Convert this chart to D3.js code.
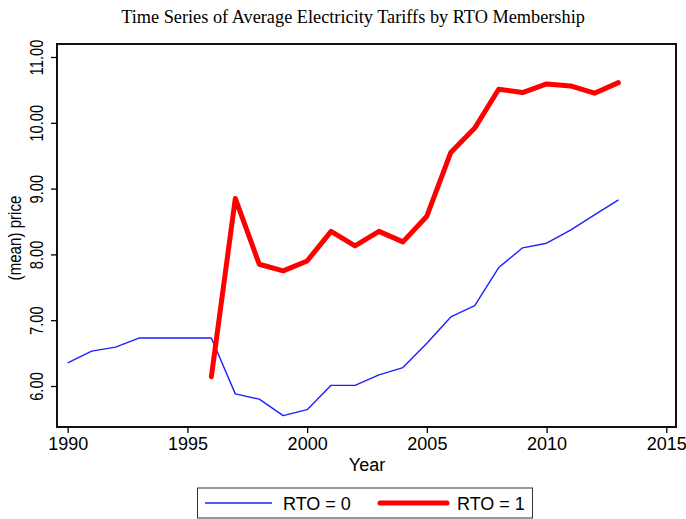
<!DOCTYPE html>
<html>
<head>
<meta charset="utf-8">
<script src="https://cdn.jsdelivr.net/npm/d3@7"></script>
<style>
  html, body { margin: 0; padding: 0; background: #fff; }
  svg { display: block; }
</style>
</head>
<body>
<svg id="chart" width="686" height="519"></svg>
<script>
const titleText = "Time Series of Average Electricity Tariffs by RTO Membership";
const yearsRTO0 = [1990, 1991, 1992, 1993, 1994, 1995, 1996, 1997, 1998, 1999, 2000, 2001, 2002, 2003, 2004, 2005, 2006, 2007, 2008, 2009, 2010, 2011, 2012, 2013];
const priceRTO0 = [6.35, 6.53, 6.59, 6.73, 6.73, 6.73, 6.73, 5.88, 5.80, 5.55, 5.64, 6.01, 6.01, 6.17, 6.28, 6.65, 7.05, 7.22, 7.80, 8.10, 8.17, 8.37, 8.60, 8.83];
const yearsRTO1 = [1996, 1997, 1998, 1999, 2000, 2001, 2002, 2003, 2004, 2005, 2006, 2007, 2008, 2009, 2010, 2011, 2012, 2013];
const priceRTO1 = [6.14, 8.85, 7.85, 7.75, 7.90, 8.35, 8.13, 8.35, 8.19, 8.58, 9.55, 9.92, 10.51, 10.46, 10.59, 10.56, 10.45, 10.61];
const xTicks = [1990, 1995, 2000, 2005, 2010, 2015];
const yTicks = [6, 7, 8, 9, 10, 11];
const seriesLabels = ["RTO = 0", "RTO = 1"];

const svg = d3.select("#chart");
const frame = { left: 57, right: 676, top: 44, bottom: 427 };

const x = d3.scaleLinear().domain([1990, 2015]).range([67.7, 666.3]);
const y = d3.scaleLinear().domain([6, 11]).range([386, 57]);

// Title
svg.append("text")
  .attr("x", 353).attr("y", 23)
  .attr("text-anchor", "middle")
  .attr("font-family", "'Liberation Serif', 'Times New Roman', serif")
  .attr("font-size", 18.3)
  .attr("fill", "#000")
  .text(titleText);

// Frame
svg.append("rect")
  .attr("x", frame.left).attr("y", frame.top)
  .attr("width", frame.right - frame.left)
  .attr("height", frame.bottom - frame.top)
  .attr("fill", "none").attr("stroke", "#111").attr("stroke-width", 2);

// Axes
const xAxis = d3.axisBottom(x).tickValues(xTicks).tickFormat(d3.format("d")).tickSize(6).tickPadding(4);
const gx = svg.append("g").attr("transform", `translate(0,${frame.bottom})`).call(xAxis);
gx.select(".domain").remove();
gx.selectAll(".tick line").attr("stroke", "#000").attr("stroke-width", 1.3);
gx.selectAll(".tick text")
  .attr("font-family", "'Liberation Sans', Arial, sans-serif")
  .attr("font-size", 18).attr("fill", "#000");

const yAxis = d3.axisLeft(y).tickValues(yTicks).tickFormat(d3.format(".2f")).tickSize(6);
const gy = svg.append("g").attr("transform", `translate(${frame.left},0)`).call(yAxis);
gy.select(".domain").remove();
gy.selectAll(".tick line").attr("stroke", "#000").attr("stroke-width", 1.3);
gy.selectAll(".tick text")
  .attr("font-family", "'Liberation Sans', Arial, sans-serif")
  .attr("font-size", 18).attr("fill", "#000")
  .attr("x", null).attr("dy", null)
  .attr("text-anchor", "middle")
  .attr("transform", "translate(-14,0) rotate(-90) scale(0.82,1)");

// Axis titles
svg.append("text")
  .attr("x", 367).attr("y", 471)
  .attr("text-anchor", "middle")
  .attr("font-family", "'Liberation Sans', Arial, sans-serif")
  .attr("font-size", 18).attr("fill", "#000")
  .text("Year");

svg.append("text")
  .attr("transform", "translate(21,238) rotate(-90) scale(0.84,1)")
  .attr("text-anchor", "middle")
  .attr("font-family", "'Liberation Sans', Arial, sans-serif")
  .attr("font-size", 18).attr("fill", "#000")
  .text("(mean) price");

// Lines
const line = d3.line().x(d => x(d[0])).y(d => y(d[1]));
const data0 = yearsRTO0.map((yr, i) => [yr, priceRTO0[i]]);
const data1 = yearsRTO1.map((yr, i) => [yr, priceRTO1[i]]);

svg.append("path").datum(data0)
  .attr("d", line).attr("fill", "none")
  .attr("stroke", "#1f1fff").attr("stroke-width", 1.4)
  .attr("stroke-linejoin", "round");

svg.append("path").datum(data1)
  .attr("d", line).attr("fill", "none")
  .attr("stroke", "#ff0000").attr("stroke-width", 5)
  .attr("stroke-linejoin", "round").attr("stroke-linecap", "round");

// Legend
const lg = svg.append("g");
lg.append("rect").attr("x", 197.5).attr("y", 488).attr("width", 335).attr("height", 30)
  .attr("fill", "#fff").attr("stroke", "#333").attr("stroke-width", 1);
lg.append("line").attr("x1", 205).attr("x2", 272).attr("y1", 503).attr("y2", 503)
  .attr("stroke", "#1f1fff").attr("stroke-width", 1.4);
lg.append("text").attr("x", 283).attr("y", 509.5)
  .attr("font-family", "'Liberation Sans', Arial, sans-serif")
  .attr("font-size", 18).attr("fill", "#000").text(seriesLabels[0]);
lg.append("line").attr("x1", 380).attr("x2", 447).attr("y1", 503).attr("y2", 503)
  .attr("stroke", "#ff0000").attr("stroke-width", 5).attr("stroke-linecap", "round");
lg.append("text").attr("x", 457).attr("y", 509.5)
  .attr("font-family", "'Liberation Sans', Arial, sans-serif")
  .attr("font-size", 18).attr("fill", "#000").text(seriesLabels[1]);
</script>
</body>
</html>
